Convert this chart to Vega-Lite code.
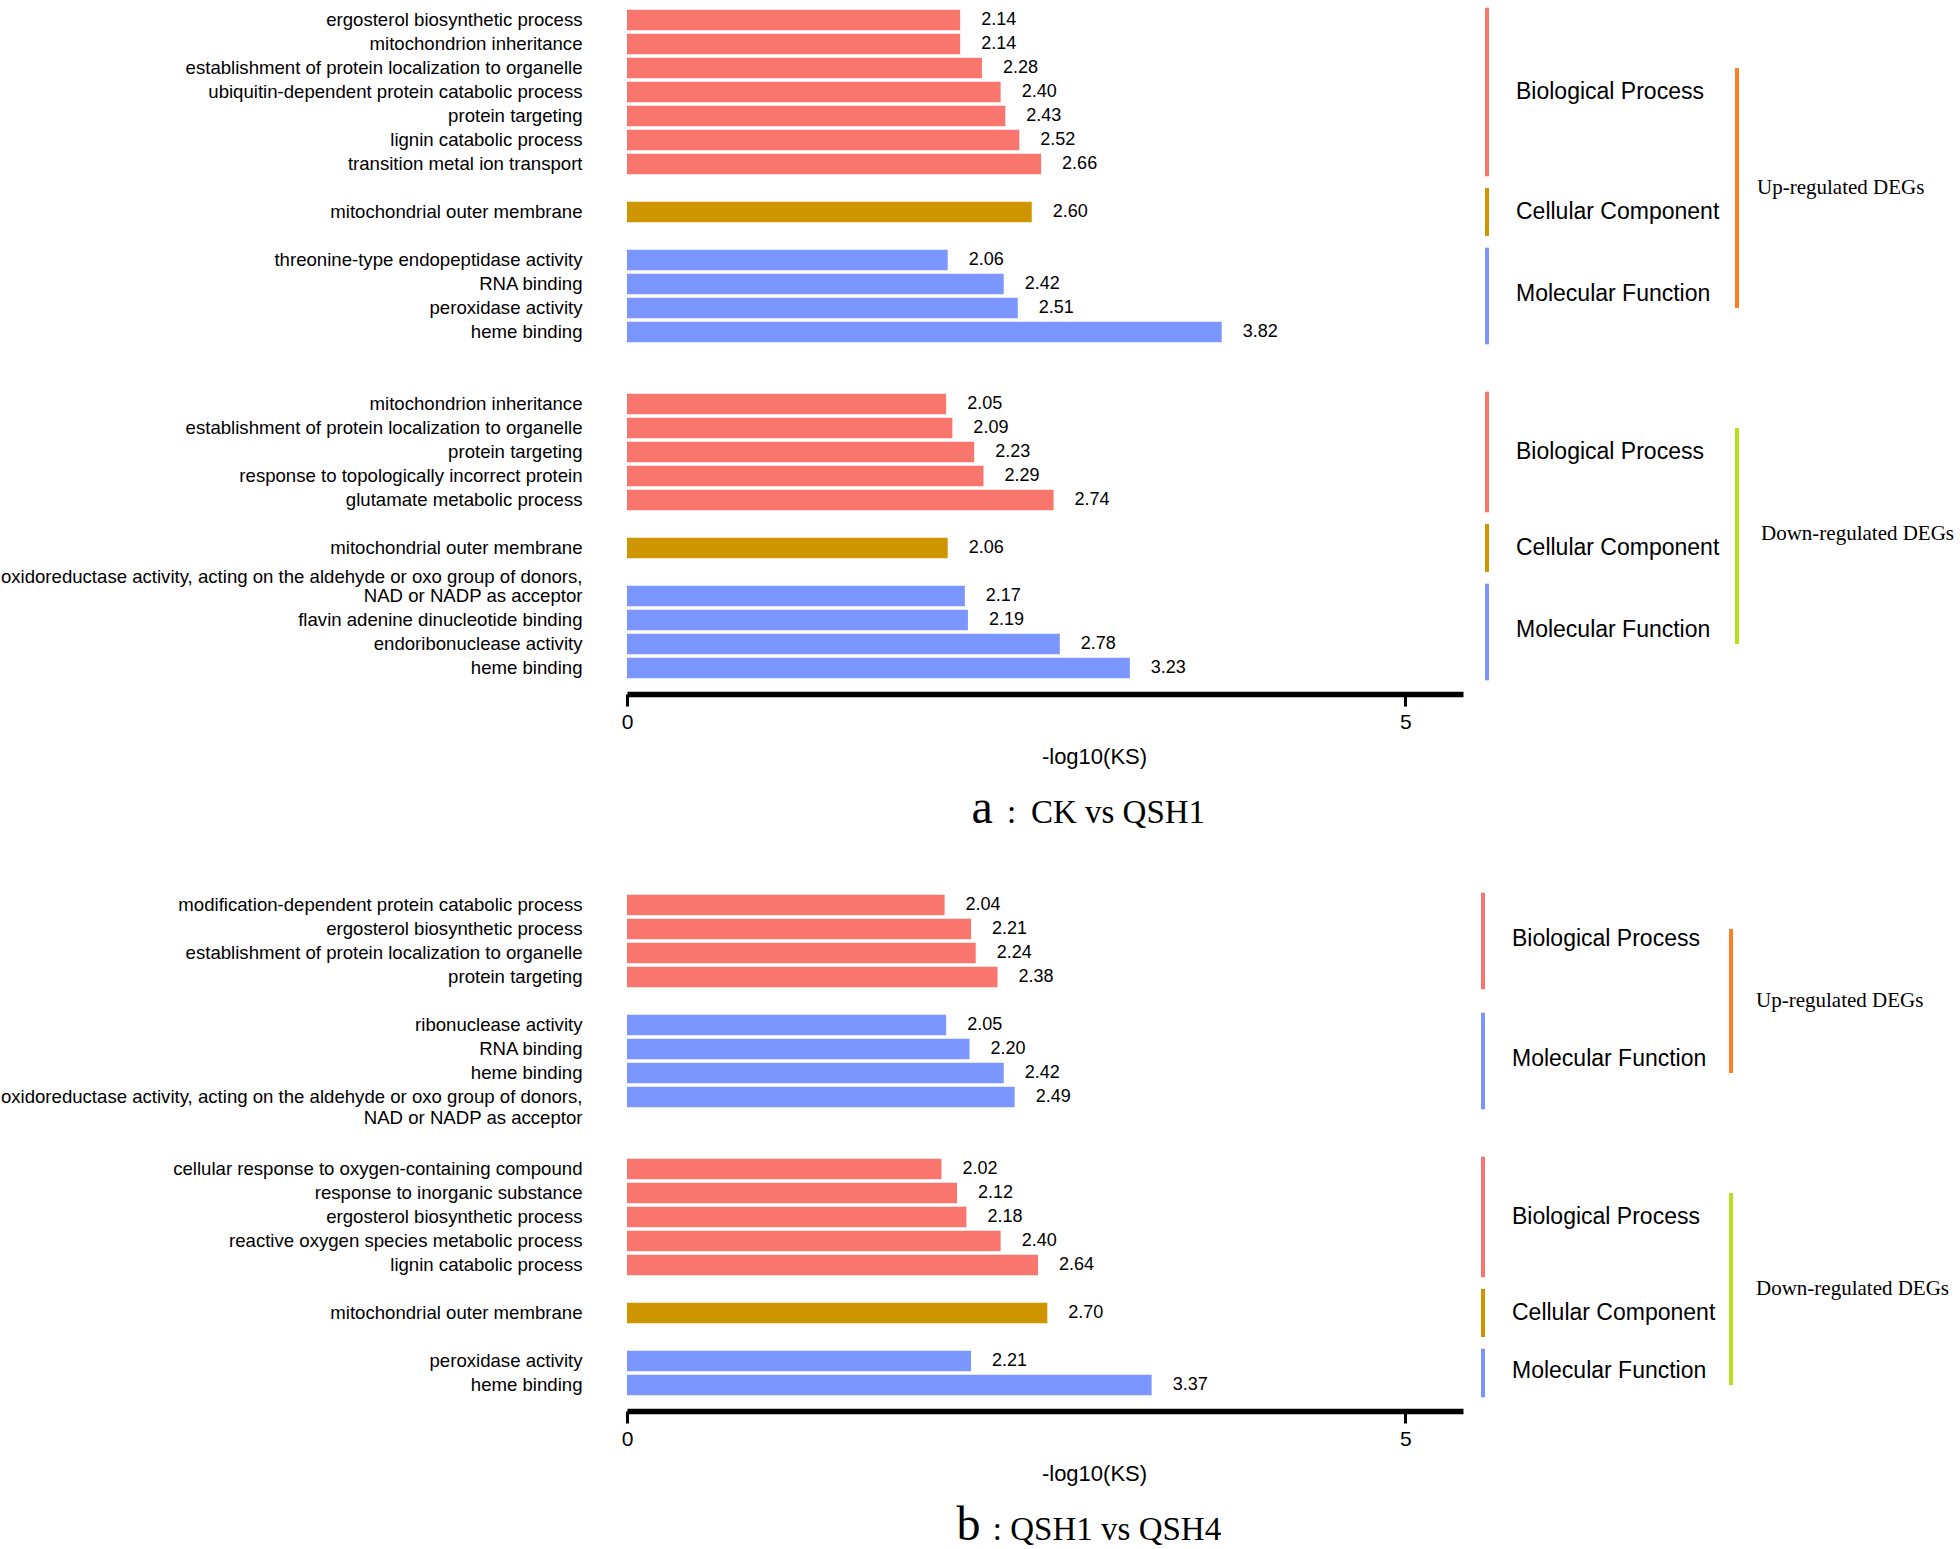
{
  "$schema": "https://vega.github.io/schema/vega-lite/v6.json",
  "padding": 0,
  "background": "white",
  "config": {"view": {"stroke": null}, "font": "Liberation Sans"},
  "datasets": {
    "terms": [
      {"panel": "a", "regulation": "Up", "category": "BP", "key": "aUB1|ergosterol biosynthetic process", "value": 2.14},
      {"panel": "a", "regulation": "Up", "category": "BP", "key": "aUB2|mitochondrion inheritance", "value": 2.14},
      {"panel": "a", "regulation": "Up", "category": "BP", "key": "aUB3|establishment of protein localization to organelle", "value": 2.28},
      {"panel": "a", "regulation": "Up", "category": "BP", "key": "aUB4|ubiquitin-dependent protein catabolic process", "value": 2.40},
      {"panel": "a", "regulation": "Up", "category": "BP", "key": "aUB5|protein targeting", "value": 2.43},
      {"panel": "a", "regulation": "Up", "category": "BP", "key": "aUB6|lignin catabolic process", "value": 2.52},
      {"panel": "a", "regulation": "Up", "category": "BP", "key": "aUB7|transition metal ion transport", "value": 2.66},
      {"panel": "a", "regulation": "Up", "category": "CC", "key": "aUC1|mitochondrial outer membrane", "value": 2.60},
      {"panel": "a", "regulation": "Up", "category": "MF", "key": "aUM1|threonine-type endopeptidase activity", "value": 2.06},
      {"panel": "a", "regulation": "Up", "category": "MF", "key": "aUM2|RNA binding", "value": 2.42},
      {"panel": "a", "regulation": "Up", "category": "MF", "key": "aUM3|peroxidase activity", "value": 2.51},
      {"panel": "a", "regulation": "Up", "category": "MF", "key": "aUM4|heme binding", "value": 3.82},
      {"panel": "a", "regulation": "Down", "category": "BP", "key": "aDB1|mitochondrion inheritance", "value": 2.05},
      {"panel": "a", "regulation": "Down", "category": "BP", "key": "aDB2|establishment of protein localization to organelle", "value": 2.09},
      {"panel": "a", "regulation": "Down", "category": "BP", "key": "aDB3|protein targeting", "value": 2.23},
      {"panel": "a", "regulation": "Down", "category": "BP", "key": "aDB4|response to topologically incorrect protein", "value": 2.29},
      {"panel": "a", "regulation": "Down", "category": "BP", "key": "aDB5|glutamate metabolic process", "value": 2.74},
      {"panel": "a", "regulation": "Down", "category": "CC", "key": "aDC1|mitochondrial outer membrane", "value": 2.06},
      {"panel": "a", "regulation": "Down", "category": "MF", "key": "aDM1|oxidoreductase activity, acting on the aldehyde or oxo group of donors, NAD or NADP as acceptor", "value": 2.17},
      {"panel": "a", "regulation": "Down", "category": "MF", "key": "aDM2|flavin adenine dinucleotide binding", "value": 2.19},
      {"panel": "a", "regulation": "Down", "category": "MF", "key": "aDM3|endoribonuclease activity", "value": 2.78},
      {"panel": "a", "regulation": "Down", "category": "MF", "key": "aDM4|heme binding", "value": 3.23},
      {"panel": "b", "regulation": "Up", "category": "BP", "key": "bUB1|modification-dependent protein catabolic process", "value": 2.04},
      {"panel": "b", "regulation": "Up", "category": "BP", "key": "bUB2|ergosterol biosynthetic process", "value": 2.21},
      {"panel": "b", "regulation": "Up", "category": "BP", "key": "bUB3|establishment of protein localization to organelle", "value": 2.24},
      {"panel": "b", "regulation": "Up", "category": "BP", "key": "bUB4|protein targeting", "value": 2.38},
      {"panel": "b", "regulation": "Up", "category": "MF", "key": "bUM1|ribonuclease activity", "value": 2.05},
      {"panel": "b", "regulation": "Up", "category": "MF", "key": "bUM2|RNA binding", "value": 2.20},
      {"panel": "b", "regulation": "Up", "category": "MF", "key": "bUM3|heme binding", "value": 2.42},
      {"panel": "b", "regulation": "Up", "category": "MF", "key": "bUM4|oxidoreductase activity, acting on the aldehyde or oxo group of donors, NAD or NADP as acceptor", "value": 2.49},
      {"panel": "b", "regulation": "Down", "category": "BP", "key": "bDB1|cellular response to oxygen-containing compound", "value": 2.02},
      {"panel": "b", "regulation": "Down", "category": "BP", "key": "bDB2|response to inorganic substance", "value": 2.12},
      {"panel": "b", "regulation": "Down", "category": "BP", "key": "bDB3|ergosterol biosynthetic process", "value": 2.18},
      {"panel": "b", "regulation": "Down", "category": "BP", "key": "bDB4|reactive oxygen species metabolic process", "value": 2.40},
      {"panel": "b", "regulation": "Down", "category": "BP", "key": "bDB5|lignin catabolic process", "value": 2.64},
      {"panel": "b", "regulation": "Down", "category": "CC", "key": "bDC1|mitochondrial outer membrane", "value": 2.70},
      {"panel": "b", "regulation": "Down", "category": "MF", "key": "bDM1|peroxidase activity", "value": 2.21},
      {"panel": "b", "regulation": "Down", "category": "MF", "key": "bDM2|heme binding", "value": 3.37}
    ],
    "spans": [
      {"panel": "a", "level": "GO", "category": "BP", "label": "Biological Process", "from": "aUB1|ergosterol biosynthetic process", "to": "aUB7|transition metal ion transport", "mid": "aUB4|ubiquitin-dependent protein catabolic process", "n": 7},
      {"panel": "a", "level": "GO", "category": "CC", "label": "Cellular Component", "from": "aG1|", "to": "aG2|", "mid": "aUC1|mitochondrial outer membrane", "n": 1},
      {"panel": "a", "level": "GO", "category": "MF", "label": "Molecular Function", "from": "aUM1|threonine-type endopeptidase activity", "to": "aUM4|heme binding", "mid": "aUM2|RNA binding", "n": 4},
      {"panel": "a", "level": "GO", "category": "BP", "label": "Biological Process", "from": "aDB1|mitochondrion inheritance", "to": "aDB5|glutamate metabolic process", "mid": "aDB3|protein targeting", "n": 5},
      {"panel": "a", "level": "GO", "category": "CC", "label": "Cellular Component", "from": "aG5|", "to": "aG6|", "mid": "aDC1|mitochondrial outer membrane", "n": 1},
      {"panel": "a", "level": "GO", "category": "MF", "label": "Molecular Function", "from": "aDM1|oxidoreductase activity, acting on the aldehyde or oxo group of donors, NAD or NADP as acceptor", "to": "aDM4|heme binding", "mid": "aDM2|flavin adenine dinucleotide binding", "n": 4},
      {"panel": "a", "level": "DEG", "category": "Up", "label": "Up-regulated DEGs", "from": "aUB3|establishment of protein localization to organelle", "to": "aUM3|peroxidase activity", "mid": "aG1|", "n": 11},
      {"panel": "a", "level": "DEG", "category": "Down", "label": "Down-regulated DEGs", "from": "aDB2|establishment of protein localization to organelle", "to": "aDM3|endoribonuclease activity", "mid": "aG5|", "n": 10},
      {"panel": "b", "level": "GO", "category": "BP", "label": "Biological Process", "from": "bUB1|modification-dependent protein catabolic process", "to": "bUB4|protein targeting", "mid": "bUB2|ergosterol biosynthetic process", "n": 4},
      {"panel": "b", "level": "GO", "category": "MF", "label": "Molecular Function", "from": "bUM1|ribonuclease activity", "to": "bUM4|oxidoreductase activity, acting on the aldehyde or oxo group of donors, NAD or NADP as acceptor", "mid": "bUM2|RNA binding", "n": 4},
      {"panel": "b", "level": "GO", "category": "BP", "label": "Biological Process", "from": "bDB1|cellular response to oxygen-containing compound", "to": "bDB5|lignin catabolic process", "mid": "bDB3|ergosterol biosynthetic process", "n": 5},
      {"panel": "b", "level": "GO", "category": "CC", "label": "Cellular Component", "from": "bG4|", "to": "bG5|", "mid": "bDC1|mitochondrial outer membrane", "n": 1},
      {"panel": "b", "level": "GO", "category": "MF", "label": "Molecular Function", "from": "bDM1|peroxidase activity", "to": "bDM2|heme binding", "mid": "bDM1|peroxidase activity", "n": 2},
      {"panel": "b", "level": "DEG", "category": "Up", "label": "Up-regulated DEGs", "from": "bUB2|ergosterol biosynthetic process", "to": "bUM3|heme binding", "mid": "bG1|", "n": 7},
      {"panel": "b", "level": "DEG", "category": "Down", "label": "Down-regulated DEGs", "from": "bDB2|response to inorganic substance", "to": "bDM2|heme binding", "mid": "bG4|", "n": 9}
    ]
  },
  "spacing": 52,
  "resolve": {"scale": {"y": "independent", "x": "independent"}},
  "vconcat": [
    {
      "title": {"text": "a", "orient": "bottom", "anchor": "start", "font": "Liberation Serif", "fontSize": 48, "fontWeight": "normal", "color": "black", "offset": 0, "dx": 971, "dy": -45},
      "spacing": 10,
      "resolve": {"scale": {"y": "shared", "x": "independent"}},
      "hconcat": [
        {
          "width": 836,
          "height": 688,
          "data": {"name": "terms"},
          "transform": [{"filter": "datum.panel === 'a'"}],
          "title": {"text": ":\u2009 CK vs QSH1", "orient": "bottom", "anchor": "middle", "font": "Liberation Serif", "fontSize": 33, "fontWeight": "normal", "color": "black", "offset": 30, "dx": 61},
          "encoding": {
            "y": {
              "field": "key", "type": "nominal", "sort": null,
              "scale": {"type": "band", "paddingInner": 0.14, "paddingOuter": 0.403, "domain": ["aUB1|ergosterol biosynthetic process", "aUB2|mitochondrion inheritance", "aUB3|establishment of protein localization to organelle", "aUB4|ubiquitin-dependent protein catabolic process", "aUB5|protein targeting", "aUB6|lignin catabolic process", "aUB7|transition metal ion transport", "aG1|", "aUC1|mitochondrial outer membrane", "aG2|", "aUM1|threonine-type endopeptidase activity", "aUM2|RNA binding", "aUM3|peroxidase activity", "aUM4|heme binding", "aG3|", "aG4|", "aDB1|mitochondrion inheritance", "aDB2|establishment of protein localization to organelle", "aDB3|protein targeting", "aDB4|response to topologically incorrect protein", "aDB5|glutamate metabolic process", "aG5|", "aDC1|mitochondrial outer membrane", "aG6|", "aDM1|oxidoreductase activity, acting on the aldehyde or oxo group of donors, NAD or NADP as acceptor", "aDM2|flavin adenine dinucleotide binding", "aDM3|endoribonuclease activity", "aDM4|heme binding"]},
              "axis": {"title": null, "ticks": false, "domain": false, "grid": false, "labelFontSize": 18.6, "labelFont": "Liberation Sans", "labelColor": "black", "labelPadding": 45, "labelLimit": 0, "labelOverlap": false, "labelLineHeight": 19, "labelExpr": "split(replace(split(datum.value, '|')[1], 'donors, ', 'donors,|'), '|')", "labelOffset": {"condition": {"test": "indexof(datum.value, 'donors') >= 0", "value": -19}, "value": 0}}
            },
            "x": {
              "field": "value", "type": "quantitative",
              "scale": {"domain": [0, 5.37], "nice": false, "zero": true},
              "axis": {"values": [0, 5], "title": "-log10(KS)", "grid": false, "offset": 6, "domainWidth": 5.5, "domainColor": "black", "tickColor": "black", "tickWidth": 3, "tickSize": 12, "labelFontSize": 21, "labelFont": "Liberation Sans", "labelColor": "black", "labelPadding": 5, "labelFlush": false, "titleFontSize": 22, "titleFont": "Liberation Sans", "titleFontWeight": "normal", "titleColor": "black", "titlePadding": 14, "titleX": 467}
            }
          },
          "layer": [
            {
              "mark": {"type": "bar"},
              "encoding": {"color": {"field": "category", "type": "nominal", "scale": {"domain": ["BP", "CC", "MF", "Up", "Down"], "range": ["#F8766D", "#CD9600", "#7B96FF", "#FF7F24", "#B4E01C"]}, "legend": null}}
            },
            {
              "mark": {"type": "text", "align": "left", "baseline": "middle", "dx": 21, "fontSize": 18, "font": "Liberation Sans", "color": "black"},
              "encoding": {"text": {"field": "value", "type": "quantitative", "format": ".2f"}}
            }
          ]
        },
        {
          "width": 480,
          "height": 688,
          "data": {"name": "spans"},
          "transform": [{"filter": "datum.panel === 'a'"}],
          "encoding": {
            "x": {"field": "level", "type": "nominal", "scale": {"type": "point", "domain": ["GO", "DEG"], "range": [14, 264], "padding": 0}, "axis": null},
            "color": {"field": "category", "type": "nominal", "scale": {"domain": ["BP", "CC", "MF", "Up", "Down"], "range": ["#F8766D", "#CD9600", "#7B96FF", "#FF7F24", "#B4E01C"]}, "legend": null}
          },
          "layer": [
            {
              "transform": [{"filter": "datum.level === 'GO' && datum.category !== 'CC'"}],
              "mark": {"type": "rule", "strokeWidth": 4, "strokeCap": "square"},
              "encoding": {"y": {"field": "from", "type": "nominal", "bandPosition": 0, "axis": null, "scale": {"type": "band"}}, "y2": {"field": "to", "bandPosition": 1}}
            },
            {
              "transform": [{"filter": "datum.level === 'DEG' || datum.category === 'CC'"}],
              "mark": {"type": "rule", "strokeWidth": 4},
              "encoding": {"y": {"field": "from", "type": "nominal", "bandPosition": 0.5, "axis": null, "scale": {"type": "band"}}, "y2": {"field": "to", "bandPosition": 0.5}}
            },
            {
              "transform": [{"filter": "datum.level === 'GO' && datum.n % 2 === 1"}],
              "mark": {"type": "text", "align": "left", "baseline": "middle", "dx": 29, "fontSize": 23, "font": "Liberation Sans", "color": "black"},
              "encoding": {"y": {"field": "mid", "type": "nominal", "bandPosition": 0.5, "axis": null, "scale": {"type": "band"}}, "text": {"field": "label"}, "color": {"value": "black"}}
            },
            {
              "transform": [{"filter": "datum.level === 'GO' && datum.n % 2 === 0"}],
              "mark": {"type": "text", "align": "left", "baseline": "middle", "dx": 29, "fontSize": 23, "font": "Liberation Sans", "color": "black"},
              "encoding": {"y": {"field": "mid", "type": "nominal", "bandPosition": 1, "axis": null, "scale": {"type": "band"}}, "text": {"field": "label"}, "color": {"value": "black"}}
            },
            {
              "transform": [{"filter": "datum.level === 'DEG' && datum.n % 2 === 1"}],
              "mark": {"type": "text", "align": "left", "baseline": "middle", "dx": 20, "fontSize": 21, "font": "Liberation Serif", "color": "black"},
              "encoding": {"y": {"field": "mid", "type": "nominal", "bandPosition": 0.5, "axis": null, "scale": {"type": "band"}}, "text": {"field": "label"}, "color": {"value": "black"}}
            },
            {
              "transform": [{"filter": "datum.level === 'DEG' && datum.n % 2 === 0"}],
              "mark": {"type": "text", "align": "left", "baseline": "middle", "dx": 24, "fontSize": 21, "font": "Liberation Serif", "color": "black"},
              "encoding": {"y": {"field": "mid", "type": "nominal", "bandPosition": 1, "axis": null, "scale": {"type": "band"}}, "text": {"field": "label"}, "color": {"value": "black"}}
            }
          ]
        }
      ]
    },
    {
      "title": {"text": "b", "orient": "bottom", "anchor": "start", "font": "Liberation Serif", "fontSize": 48, "fontWeight": "normal", "color": "black", "offset": 0, "dx": 956, "dy": -45},
      "spacing": 10,
      "resolve": {"scale": {"y": "shared", "x": "independent"}},
      "hconcat": [
        {
          "width": 836,
          "height": 520,
          "data": {"name": "terms"},
          "transform": [{"filter": "datum.panel === 'b'"}],
          "title": {"text": ": QSH1 vs QSH4", "orient": "bottom", "anchor": "middle", "font": "Liberation Serif", "fontSize": 33, "fontWeight": "normal", "color": "black", "offset": 30, "dx": 62},
          "encoding": {
            "y": {
              "field": "key", "type": "nominal", "sort": null,
              "scale": {"type": "band", "paddingInner": 0.14, "paddingOuter": 0.403, "domain": ["bUB1|modification-dependent protein catabolic process", "bUB2|ergosterol biosynthetic process", "bUB3|establishment of protein localization to organelle", "bUB4|protein targeting", "bG1|", "bUM1|ribonuclease activity", "bUM2|RNA binding", "bUM3|heme binding", "bUM4|oxidoreductase activity, acting on the aldehyde or oxo group of donors, NAD or NADP as acceptor", "bG2|", "bG3|", "bDB1|cellular response to oxygen-containing compound", "bDB2|response to inorganic substance", "bDB3|ergosterol biosynthetic process", "bDB4|reactive oxygen species metabolic process", "bDB5|lignin catabolic process", "bG4|", "bDC1|mitochondrial outer membrane", "bG5|", "bDM1|peroxidase activity", "bDM2|heme binding"]},
              "axis": {"title": null, "ticks": false, "domain": false, "grid": false, "labelFontSize": 18.6, "labelFont": "Liberation Sans", "labelColor": "black", "labelPadding": 45, "labelLimit": 0, "labelOverlap": false, "labelLineHeight": 21, "labelExpr": "split(replace(split(datum.value, '|')[1], 'donors, ', 'donors,|'), '|')"}
            },
            "x": {
              "field": "value", "type": "quantitative",
              "scale": {"domain": [0, 5.37], "nice": false, "zero": true},
              "axis": {"values": [0, 5], "title": "-log10(KS)", "grid": false, "offset": 6, "domainWidth": 5.5, "domainColor": "black", "tickColor": "black", "tickWidth": 3, "tickSize": 12, "labelFontSize": 21, "labelFont": "Liberation Sans", "labelColor": "black", "labelPadding": 5, "labelFlush": false, "titleFontSize": 22, "titleFont": "Liberation Sans", "titleFontWeight": "normal", "titleColor": "black", "titlePadding": 14, "titleX": 467}
            }
          },
          "layer": [
            {
              "mark": {"type": "bar"},
              "encoding": {"color": {"field": "category", "type": "nominal", "scale": {"domain": ["BP", "CC", "MF", "Up", "Down"], "range": ["#F8766D", "#CD9600", "#7B96FF", "#FF7F24", "#B4E01C"]}, "legend": null}}
            },
            {
              "mark": {"type": "text", "align": "left", "baseline": "middle", "dx": 21, "fontSize": 18, "font": "Liberation Sans", "color": "black"},
              "encoding": {"text": {"field": "value", "type": "quantitative", "format": ".2f"}}
            }
          ]
        },
        {
          "width": 480,
          "height": 520,
          "data": {"name": "spans"},
          "transform": [{"filter": "datum.panel === 'b'"}],
          "encoding": {
            "x": {"field": "level", "type": "nominal", "scale": {"type": "point", "domain": ["GO", "DEG"], "range": [10, 258], "padding": 0}, "axis": null},
            "color": {"field": "category", "type": "nominal", "scale": {"domain": ["BP", "CC", "MF", "Up", "Down"], "range": ["#F8766D", "#CD9600", "#7B96FF", "#FF7F24", "#B4E01C"]}, "legend": null}
          },
          "layer": [
            {
              "transform": [{"filter": "datum.level === 'GO' && datum.category !== 'CC'"}],
              "mark": {"type": "rule", "strokeWidth": 4, "strokeCap": "square"},
              "encoding": {"y": {"field": "from", "type": "nominal", "bandPosition": 0, "axis": null, "scale": {"type": "band"}}, "y2": {"field": "to", "bandPosition": 1}}
            },
            {
              "transform": [{"filter": "datum.level === 'DEG' || datum.category === 'CC'"}],
              "mark": {"type": "rule", "strokeWidth": 4},
              "encoding": {"y": {"field": "from", "type": "nominal", "bandPosition": 0.5, "axis": null, "scale": {"type": "band"}}, "y2": {"field": "to", "bandPosition": 0.5}}
            },
            {
              "transform": [{"filter": "datum.level === 'GO' && datum.n % 2 === 1"}],
              "mark": {"type": "text", "align": "left", "baseline": "middle", "dx": 29, "fontSize": 23, "font": "Liberation Sans", "color": "black"},
              "encoding": {"y": {"field": "mid", "type": "nominal", "bandPosition": 0.5, "axis": null, "scale": {"type": "band"}}, "text": {"field": "label"}, "color": {"value": "black"}}
            },
            {
              "transform": [{"filter": "datum.level === 'GO' && datum.n % 2 === 0"}],
              "mark": {"type": "text", "align": "left", "baseline": "middle", "dx": 29, "fontSize": 23, "font": "Liberation Sans", "color": "black"},
              "encoding": {"y": {"field": "mid", "type": "nominal", "bandPosition": 1, "axis": null, "scale": {"type": "band"}}, "text": {"field": "label"}, "color": {"value": "black"}}
            },
            {
              "transform": [{"filter": "datum.level === 'DEG' && datum.n % 2 === 1"}],
              "mark": {"type": "text", "align": "left", "baseline": "middle", "dx": 25, "fontSize": 21, "font": "Liberation Serif", "color": "black"},
              "encoding": {"y": {"field": "mid", "type": "nominal", "bandPosition": 0.5, "axis": null, "scale": {"type": "band"}}, "text": {"field": "label"}, "color": {"value": "black"}}
            },
            {
              "transform": [{"filter": "datum.level === 'DEG' && datum.n % 2 === 0"}],
              "mark": {"type": "text", "align": "left", "baseline": "middle", "dx": 25, "fontSize": 21, "font": "Liberation Serif", "color": "black"},
              "encoding": {"y": {"field": "mid", "type": "nominal", "bandPosition": 1, "axis": null, "scale": {"type": "band"}}, "text": {"field": "label"}, "color": {"value": "black"}}
            }
          ]
        }
      ]
    }
  ]
}
